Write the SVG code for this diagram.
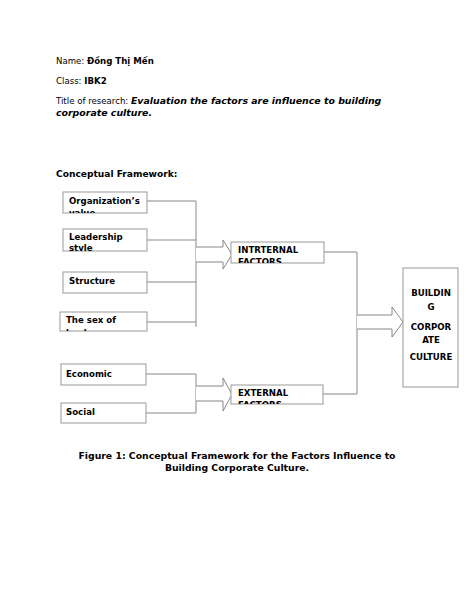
<svg xmlns="http://www.w3.org/2000/svg" width="474" height="613" viewBox="0 0 474 613">
<style>
text{font-family:"DejaVu Sans","Liberation Sans",sans-serif;fill:#000}
.h{font-size:8.6px}
.b{font-weight:bold}
.bt{font-size:8.6px;font-weight:bold}
.box{fill:#fff;stroke:#999;stroke-width:1}
.ln{fill:none;stroke:#888;stroke-width:1}
.arr{fill:#fff;stroke:#888;stroke-width:1}
</style>
<defs>
<clipPath id="c1"><rect x="63" y="192" width="84" height="21"/></clipPath>
<clipPath id="c2"><rect x="63" y="229" width="84" height="22"/></clipPath>
<clipPath id="c4"><rect x="60" y="312" width="87" height="19"/></clipPath>
<clipPath id="c5"><rect x="231" y="242" width="93" height="21"/></clipPath>
<clipPath id="c6"><rect x="231" y="385" width="92" height="19"/></clipPath>
</defs>
<g id="header">
<text class="h" x="56" y="64">Name: <tspan class="b">Đồng Thị Mến</tspan></text>
<text class="h" x="56" y="84">Class: <tspan class="b">IBK2</tspan></text>
<text class="h" x="56" y="104">Title of research: <tspan class="b" font-style="italic" font-size="9.4">Evaluation the factors are influence to building</tspan></text>
<text class="b" x="56" y="116" font-style="italic" font-size="9.4">corporate culture.</text>
<text class="b" x="56" y="177" font-size="9.1">Conceptual Framework:</text>
</g>
<g id="connectors">
<polyline class="ln" points="147,201 196,201 196,327"/>
<line class="ln" x1="147" y1="240" x2="196" y2="240"/>
<line class="ln" x1="147" y1="282" x2="196" y2="282"/>
<line class="ln" x1="147" y1="322" x2="196" y2="322"/>
<polyline class="ln" points="146,374 196,374 196,413 146,413"/>
<polyline class="arr" points="196,247 223,247 223,240 232,254.5 223,269 223,262 196,262"/>
<polyline class="arr" points="196,386 223,386 223,378 232,394.5 223,411 223,401 196,401"/>
<polyline class="ln" points="324,252 357,252 357,394 323,394"/>
<polyline class="arr" points="357,315 392,315 392,307 403,322 392,337 392,329 357,329"/>
</g>
<g id="n-org">
<rect class="box" x="63" y="192" width="84" height="21"/>
<g clip-path="url(#c1)"><text class="bt" x="69" y="204">Organization’s</text><text class="bt" x="69" y="216">value</text></g>
</g>
<g id="n-lead">
<rect class="box" x="63" y="229" width="84" height="22"/>
<g clip-path="url(#c2)"><text class="bt" x="69" y="240">Leadership</text><text class="bt" x="69" y="251">style</text></g>
</g>
<g id="n-struct">
<rect class="box" x="63" y="272" width="84" height="21"/>
<text class="bt" x="69" y="284">Structure</text>
</g>
<g id="n-sex">
<rect class="box" x="60" y="312" width="87" height="19"/>
<g clip-path="url(#c4)"><text class="bt" x="66" y="323">The sex of</text><text class="bt" x="66" y="336">leaders</text></g>
</g>
<g id="n-econ">
<rect class="box" x="61" y="364" width="85" height="21"/>
<text class="bt" x="66" y="377">Economic</text>
</g>
<g id="n-social">
<rect class="box" x="61" y="403" width="85" height="20"/>
<text class="bt" x="66" y="415">Social</text>
</g>
<g id="n-internal">
<rect class="box" x="231" y="242" width="93" height="21"/>
<g clip-path="url(#c5)"><text class="bt" x="238" y="253">INTRTERNAL</text><text class="bt" x="238" y="265">FACTORS</text></g>
</g>
<g id="n-external">
<rect class="box" x="231" y="385" width="92" height="19"/>
<g clip-path="url(#c6)"><text class="bt" x="238" y="396">EXTERNAL</text><text class="bt" x="238" y="408">FACTORS</text></g>
</g>
<g id="n-building">
<rect class="box" x="403" y="268" width="55" height="119"/>
<g text-anchor="middle">
<text class="bt" x="431" y="296">BUILDIN</text>
<text class="bt" x="431" y="310">G</text>
<text class="bt" x="431" y="330">CORPOR</text>
<text class="bt" x="431" y="343">ATE</text>
<text class="bt" x="431" y="360">CULTURE</text>
</g>
</g>
<g id="caption" text-anchor="middle">
<text class="b" font-size="9.3" x="237" y="459">Figure 1: Conceptual Framework for the Factors Influence to</text>
<text class="b" font-size="9.3" x="237" y="471">Building Corporate Culture.</text>
</g>
</svg>
